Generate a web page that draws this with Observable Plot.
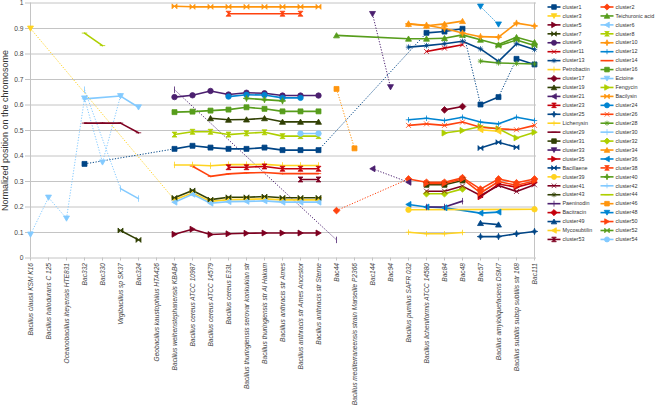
<!DOCTYPE html>
<html><head><meta charset="utf-8">
<script src="https://cdn.jsdelivr.net/npm/d3@7"></script>
<script src="https://cdn.jsdelivr.net/npm/@observablehq/plot@0.6"></script>
<style>
body{margin:0;background:#fff;}
#wrap{position:relative;width:658px;height:412px;overflow:hidden;background:#fff;}
#chart{position:absolute;left:0;top:0;}
#legend{position:absolute;left:540px;top:0;}
</style></head>
<body><div id="wrap"><div id="chart"></div><div id="legend"></div></div>
<script>
// ---------- categories (x axis) ----------
const categories = ["Bacillus clausii KSM K16","Bacillus halodurans C 125","Oceanobacillus iheyensis HTE831","Bac332","Bac330","Virgibacillus sp SK37","Bac324","Geobacillus kaustophilus HTA426","Bacillus weihenstephanensis KBAB4","Bacillus cereus ATCC 10987","Bacillus cereus ATCC 14579","Bacillus cereus E33L","Bacillus thuringiensis serovar konkukian str","Bacillus thuringiensis str Al Hakam","Bacillus anthracis str Ames","Bacillus anthracis str Ames Ancestor","Bacillus anthracis str Sterne","Bac44","Bacillus mediterraneensis strain Marseille P2366","Bac144","Bac94","Bacillus pumilus SAFR 032","Bacillus licheniformis ATCC 14580","Bac84","Bac48","Bac57","Bacillus amyloliquefaciens DSM7","Bacillus subtilis subsp subtilis str 168","Bac111"];

// ---------- y ticks ----------
const yTicks = [0,0.1,0.2,0.3,0.4,0.5,0.6,0.7,0.8,0.9,1];
const yTickLabels = ["0","0.1","0.2","0.3","0.4","0.5","0.6","0.7","0.8","0.9","1"];
const yTitle = "Normalized position on the chromosome";

// ---------- series names (legend order) ----------
const names = ["cluster1","cluster2","cluster3","Teichuronic acid","cluster5","cluster6","cluster7","cluster8","cluster9","cluster10","cluster11","cluster12","cluster13","cluster14","Petrobactin","cluster16","cluster17","Ectoine","cluster19","Fengycin","cluster21","Bacilysin","cluster23","cluster24","cluster25","cluster26","Lichenysin","cluster28","cluster29","cluster30","cluster31","cluster32","cluster33","cluster34","cluster35","cluster36","Bacillaene","cluster38","cluster39","cluster40","cluster41","cluster42","cluster43","cluster44","Paeninodin","cluster46","Bacitracin","cluster48","cluster49","cluster50","Mycosubtilin","cluster52","cluster53","cluster54"];

// ---------- series values: {category index : normalized position} ----------
const cluster1 = {3:0.369, 8:0.428, 9:0.44, 10:0.433, 11:0.428, 12:0.428, 13:0.433, 14:0.423, 15:0.423, 16:0.423, 22:0.883, 23:0.888, 24:0.899, 25:0.602, 26:0.631, 27:0.781, 28:0.759};
const cluster2 = {17:0.186, 21:0.31, 22:0.297, 23:0.297, 24:0.315, 25:0.27, 26:0.31, 27:0.295, 28:0.31};
const cluster3 = {0:0.9, 8:0.228, 9:0.255, 10:0.222, 11:0.229, 12:0.23, 13:0.232, 14:0.228, 15:0.228, 16:0.228};
const teichuronicAcid = {17:0.873, 21:0.86, 22:0.86, 23:0.862, 24:0.875, 25:0.856, 26:0.837, 27:0.866, 28:0.846};
const cluster5 = {8:0.093, 9:0.113, 10:0.092, 11:0.095, 12:0.097, 13:0.098, 14:0.098, 15:0.098, 16:0.098};
const cluster6 = {8:0.219, 9:0.25, 10:0.215, 11:0.221, 12:0.222, 13:0.224, 14:0.219, 15:0.219, 16:0.219};
const cluster7 = {5:0.108, 6:0.071, 8:0.236, 9:0.265, 10:0.229, 11:0.238, 12:0.238, 13:0.241, 14:0.236, 15:0.236, 16:0.236};
const cluster8 = {8:0.484, 9:0.495, 10:0.495, 11:0.484, 12:0.489, 13:0.493, 14:0.478, 15:0.478, 16:0.478};
const cluster9 = {8:0.631, 9:0.638, 10:0.655, 11:0.641, 12:0.648, 13:0.646, 14:0.637, 15:0.637, 16:0.637};
const cluster10 = {21:0.918, 22:0.913, 23:0.9, 24:0.882, 25:0.868, 26:0.866, 27:0.921, 28:0.91};
const cluster11 = {22:0.81, 23:0.823, 24:0.836};
const cluster12 = {21:0.542, 22:0.548, 23:0.539, 24:0.552, 25:0.533, 26:0.526, 27:0.552, 28:0.539};
const cluster13 = {21:0.827, 22:0.833, 23:0.84, 24:0.85, 25:0.82, 26:0.771, 27:0.84, 28:0.818};
const cluster14 = {9:0.36, 10:0.32, 11:0.33, 12:0.334, 13:0.335, 14:0.331, 15:0.331, 16:0.331};
const petrobactin = {8:0.365, 9:0.365, 10:0.362, 11:0.366, 12:0.366, 13:0.367, 14:0.363, 15:0.363, 16:0.363};
const cluster16 = {8:0.572, 9:0.574, 10:0.578, 11:0.582, 12:0.591, 13:0.585, 14:0.575, 15:0.575, 16:0.575};
const cluster17 = {23:0.581, 24:0.594};
const ectoine = {0:0.092, 1:0.237, 2:0.155, 3:0.626, 4:0.375, 5:0.635, 6:0.591};
const cluster19 = {10:0.548, 11:0.542, 12:0.543, 13:0.548, 14:0.534, 15:0.534, 16:0.534};
const fengycin = {23:0.49, 24:0.5, 25:0.516, 26:0.507, 27:0.471, 28:0.493};
const cluster21 = {19:0.35, 21:0.297};
const bacilysin = {8:0.987, 9:0.985, 10:0.985, 11:0.985, 12:0.985, 13:0.985, 14:0.985, 15:0.985, 16:0.985};
const cluster23 = {11:0.356, 12:0.356, 13:0.359, 14:0.35, 15:0.35, 16:0.35};
const cluster24 = {11:0.633, 12:0.64, 13:0.639, 14:0.628, 15:0.628};
const cluster25 = {25:0.084, 26:0.084, 27:0.095, 28:0.104};
const cluster26 = {21:0.52, 22:0.526, 23:0.52, 24:0.533, 25:0.513, 26:0.507, 27:0.503, 28:0.52};
const lichenysin = {21:0.101, 22:0.095, 23:0.095, 24:0.1};
const cluster28 = {25:0.772, 26:0.765, 27:0.763, 28:0.761};
const cluster29 = {3:0.529, 4:0.529, 5:0.529, 6:0.491};
const cluster30 = {3:0.66, 5:0.272, 6:0.233};
const cluster31 = {22:0.287, 23:0.287, 24:0.304};
const cluster32 = {22:0.252, 23:0.252, 24:0.271};
const cluster33 = {19:0.957, 20:0.67};
const cluster34 = {21:0.918, 22:0.911, 23:0.918, 24:0.929};
const cluster35 = {25:0.24, 26:0.29, 27:0.278, 28:0.296};
const cluster36 = {21:0.21, 22:0.2, 23:0.197, 25:0.176, 26:0.18};
const bacillaene = {25:0.431, 26:0.454, 27:0.434};
const cluster38 = {11:0.958, 14:0.958, 15:0.958};
const cluster39 = {21:0.189, 28:0.191};
const cluster40 = {12:0.626, 13:0.621, 14:0.616};
const cluster41 = {22:0.262, 23:0.262, 24:0.282, 25:0.245, 26:0.284, 27:0.261, 28:0.287};
const cluster42 = {3:0.624, 5:0.635};
const cluster43 = {};
const cluster44 = {3:0.882, 4:0.833};
const paeninodin = {8:0.66, 17:0.071, 22:0.2, 23:0.2, 24:0.223};
const cluster46 = {17:0.663, 18:0.43};
const bacitracin = {};
const cluster48 = {25:0.986, 26:0.916};
const cluster49 = {25:0.137, 26:0.131};
const cluster50 = {22:0.292, 23:0.292, 24:0.31, 25:0.255, 26:0.3, 27:0.285, 28:0.302};
const mycosubtilin = {25:0.503, 26:0.497};
const cluster52 = {26:0.832, 27:0.855, 28:0.833};
const cluster53 = {15:0.308, 16:0.308};
const cluster54 = {15:0.488, 16:0.488};

const seriesValues = [cluster1,cluster2,cluster3,teichuronicAcid,cluster5,cluster6,cluster7,cluster8,cluster9,cluster10,cluster11,cluster12,cluster13,cluster14,petrobactin,cluster16,cluster17,ectoine,cluster19,fengycin,cluster21,bacilysin,cluster23,cluster24,cluster25,cluster26,lichenysin,cluster28,cluster29,cluster30,cluster31,cluster32,cluster33,cluster34,cluster35,cluster36,bacillaene,cluster38,cluster39,cluster40,cluster41,cluster42,cluster43,cluster44,paeninodin,cluster46,bacitracin,cluster48,cluster49,cluster50,mycosubtilin,cluster52,cluster53,cluster54];

// segments starting at these category indices are drawn dotted
const dottedFrom = {"cluster1":[3,16,24,26], "cluster2":[17], "cluster3":[0], "Ectoine":[0,1,2,3,4], "cluster21":[19], "cluster30":[3], "cluster33":[19], "Paeninodin":[8], "cluster46":[17], "cluster48":[25]};
// no connecting line after these category indices
const breakAfter = {"cluster7":[6], "Paeninodin":[17]};

// ---------- styles ----------
const palette = ["#004586","#ff420e","#ffd320","#579d1c","#7e0021","#83caff","#314004","#aecf00","#4b1f6f","#ff950e","#c5000b","#0084d1"];
function poly(pts){return {draw(ctx,size){const s=Math.sqrt(size)/2;pts.forEach(([x,y],i)=>i?ctx.lineTo(x*s,y*s):ctx.moveTo(x*s,y*s));ctx.closePath();}};}
function strokes(segs){return {draw(ctx,size){const s=Math.sqrt(size)/2;for(const [a,b,c,d] of segs){ctx.moveTo(a*s,b*s);ctx.lineTo(c*s,d*s);}}};}
const circleSym = {draw(ctx,size){const s=Math.sqrt(size)/2*1.1;ctx.moveTo(s,0);ctx.arc(0,0,s,0,2*Math.PI);}};
const shapes = [
  poly([[-1,-1],[1,-1],[1,1],[-1,1]]),
  poly([[0,-1.35],[1.35,0],[0,1.35],[-1.35,0]]),
  poly([[-1.2,-1],[1.2,-1],[0,1.1]]),
  poly([[-1.2,1],[1.2,1],[0,-1.1]]),
  poly([[-1,-1.2],[1.1,0],[-1,1.2]]),
  poly([[1,-1.2],[-1.1,0],[1,1.2]]),
  poly([[-1,-1],[1,1],[1,-1],[-1,1]]),
  poly([[-1,-1],[1,-1],[-1,1],[1,1]]),
  circleSym,
  poly([[0,-1.3],[0.35,-0.35],[1.3,0],[0.35,0.35],[0,1.3],[-0.35,0.35],[-1.3,0],[-0.35,-0.35]]),
  strokes([[-1,-1,1,1],[1,-1,-1,1]]),
  strokes([[-1.1,0,1.1,0],[0,-1.1,0,1.1]]),
  strokes([[-1.1,0,1.1,0],[0,-1.1,0,1.1],[-0.8,-0.8,0.8,0.8],[0.8,-0.8,-0.8,0.8]]),
  strokes([[-1.1,0,1.1,0]]),
  strokes([[0,-1.3,0,1.3]])
];
const colors = names.map((n,i)=>palette[i%12]);
const symbols = names.map((n,i)=>shapes[i%15]);

// ---------- build marks data ----------
const points=[], solid=[], dotted=[];
names.forEach((name,k)=>{
  const obj=seriesValues[k];
  const idx=Object.keys(obj).map(Number).sort((a,b)=>a-b);
  const dots=dottedFrom[name]||[], brk=breakAfter[name]||[];
  idx.forEach((c,j)=>{
    points.push({name,cat:categories[c],v:obj[c]});
    if(j<idx.length-1 && !brk.includes(c)){
      const c2=idx[j+1];
      const seg={name,c1:categories[c],v1:obj[c],c2:categories[c2],v2:obj[c2]};
      (dots.includes(c)?dotted:solid).push(seg);
    }
  });
});

const font='"Liberation Sans", Arial, sans-serif';
const chart = Plot.plot({
  width:658, height:412,
  marginLeft:28, marginRight:122, marginTop:2.5, marginBottom:154.5,
  style:{fontFamily:font, background:"#fff", color:"#333", overflow:"visible"},
  x:{type:"point", domain:categories, padding:0},
  y:{domain:[0,1]},
  color:{domain:names, range:colors},
  symbol:{domain:names, range:symbols},
  marks:[
    Plot.gridY(yTicks,{stroke:"#c4c4c4", strokeOpacity:1, strokeWidth:1}),
    Plot.ruleX([categories[0], categories[categories.length-1]],{stroke:"#c4c4c4"}),
    Plot.axisY(yTicks,{tickFormat:d=>yTickLabels[yTicks.indexOf(d)], tickSize:3, tickPadding:2, fontSize:6.7, label:null, stroke:"#c4c4c4", fill:"#444"}),
    Plot.axisX({tickRotate:-90, tickSize:3, tickPadding:2, fontSize:6.6, fontStyle:"italic", label:null, stroke:"#c4c4c4", fill:"#444"}),
    Plot.text([yTitle],{frameAnchor:"left", dx:-23, rotate:-90, textAnchor:"middle", lineAnchor:"middle", fontSize:9, fill:"#333"}),
    Plot.link(dotted,{x1:"c1",y1:"v1",x2:"c2",y2:"v2",stroke:"name",strokeWidth:1,strokeDasharray:"1.2,1.6"}),
    Plot.link(solid,{x1:"c1",y1:"v1",x2:"c2",y2:"v2",stroke:"name",strokeWidth:1.6,strokeLinecap:"round"}),
    Plot.dot(points,{x:"cat",y:"v",symbol:"name",fill:"name",stroke:"name",r:2.8,strokeWidth:0.8})
  ]
});
document.getElementById("chart").append(chart);

// ---------- legend ----------
const legendItems = names.map((name,i)=>{
  const col=i%2, row=Math.floor(i/2);
  const sx=7+col*53, y=6.5+row*8.94;
  return {name, sx, ex:sx+13, mx:sx+6.5, tx:sx+15, y};
});
const legend = Plot.plot({
  width:118, height:250, margin:0,
  style:{fontFamily:font, background:"transparent", color:"#333", overflow:"visible"},
  x:{type:"identity", axis:null}, y:{type:"identity", axis:null},
  color:{domain:names, range:colors},
  symbol:{domain:names, range:symbols},
  marks:[
    Plot.link(legendItems,{x1:"sx",x2:"ex",y1:"y",y2:"y",stroke:"name",strokeWidth:1.6}),
    Plot.dot(legendItems,{x:"mx",y:"y",symbol:"name",fill:"name",stroke:"name",r:2.6,strokeWidth:0.8}),
    Plot.text(legendItems,{x:"tx",y:"y",text:"name",textAnchor:"start",fontSize:5.4,fill:"#333"})
  ]
});
document.getElementById("legend").append(legend);
</script></body></html>
